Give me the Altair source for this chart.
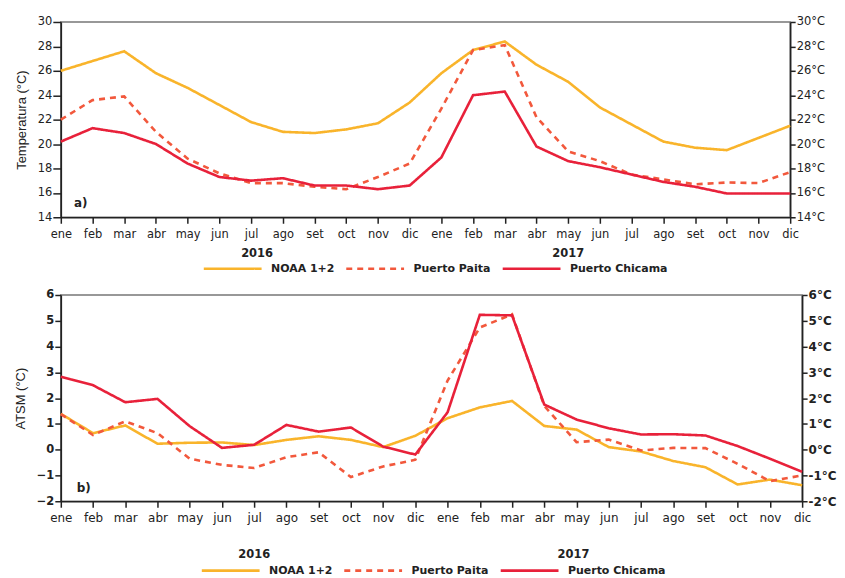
import altair as alt
import pandas as pd

meses = ["ene", "feb", "mar", "abr", "may", "jun", "jul", "ago", "set", "oct", "nov", "dic"]
series = ["NOAA 1+2", "Puerto Paita", "Puerto Chicama"]
colores = ["#F9B42B", "#F2583C", "#E8213A"]
dashes = [[1, 0], [6, 5], [1, 0]]
anios = ["2016", "2017"]

temp_noaa = [26.0, 26.8, 27.6, 25.8, 24.6, 23.2, 21.8, 21.0, 20.9, 21.2, 21.7, 23.4,
             25.8, 27.7, 28.4, 26.5, 25.1, 23.0, 21.6, 20.2, 19.7, 19.5, 20.5, 21.5]
temp_paita = [22.0, 23.6, 23.9, 21.0, 18.8, 17.6, 16.8, 16.8, 16.5, 16.3, 17.3, 18.4,
              22.9, 27.7, 28.1, 22.2, 19.4, 18.6, 17.5, 17.1, 16.7, 16.85, 16.8, 17.7]
temp_chicama = [20.2, 21.3, 20.9, 20.0, 18.4, 17.3, 17.0, 17.2, 16.6, 16.6, 16.3, 16.6,
                18.9, 24.0, 24.3, 19.8, 18.6, 18.1, 17.5, 16.9, 16.5, 15.95, 15.95, 15.95]

atsm_noaa = [1.39, 0.64, 0.94, 0.23, 0.27, 0.28, 0.18, 0.38, 0.52, 0.38, 0.10, 0.54,
             1.22, 1.64, 1.89, 0.92, 0.78, 0.10, -0.07, -0.44, -0.68, -1.35, -1.16, -1.38]
atsm_paita = [1.38, 0.57, 1.10, 0.64, -0.35, -0.59, -0.71, -0.29, -0.10, -1.06, -0.65, -0.39,
              2.68, 4.74, 5.25, 1.70, 0.29, 0.39, -0.03, 0.07, 0.06, -0.55, -1.22, -1.00]
atsm_chicama = [2.83, 2.50, 1.84, 1.97, 0.91, 0.07, 0.19, 0.96, 0.70, 0.86, 0.12, -0.19,
                1.45, 5.23, 5.21, 1.75, 1.17, 0.83, 0.59, 0.60, 0.55, 0.14, -0.35, -0.86]

# 24 month categories (2016 then 2017); the 2017 ones carry a trailing space so they stay distinct
meses_eje = meses + [m + " " for m in meses]


def tabla(valores_por_serie):
    filas = []
    for serie, vals in zip(series, valores_por_serie):
        for i, v in enumerate(vals):
            filas.append({"mes": meses_eje[i], "serie": serie, "valor": v})
    return pd.DataFrame(filas)


df_a = tabla([temp_noaa, temp_paita, temp_chicama])
df_b = tabla([atsm_noaa, atsm_paita, atsm_chicama])

AX = dict(domainColor="#222", domainWidth=1.6, tickColor="#222", tickWidth=1.5,
          labelColor="#222", labelFont="DejaVu Sans", grid=False)


def leyenda(legx, legy):
    return alt.Legend(title=None, orient="none", direction="horizontal",
                      legendX=legx, legendY=legy, symbolType="stroke",
                      symbolSize=3364, symbolStrokeWidth=2.6,
                      labelFont="DejaVu Sans", labelFontWeight="bold",
                      labelFontSize=11, labelColor="#222",
                      labelOffset=8, columnPadding=6)


def panel(df, ymin, ymax, step, width, height, ytitle, xlabsize, ylabweight,
          rlabsize, tag, tagdx, tagy, yeardx, yeary, legx, legy, title_pad, ltick):
    xs = alt.Scale(type="point", domain=meses_eje, padding=0)
    xax = alt.Axis(title=None, labelFontSize=xlabsize, labelPadding=5, labelAngle=0,
                   tickSize=6, labelOverlap=False, labelFlush=False, orient="bottom", **AX)
    xenc = alt.X("mes:N", scale=xs, axis=xax, sort=meses_eje)
    ys = alt.Scale(domain=[ymin, ymax], nice=False, zero=False)
    yvals = list(range(ymin, ymax + 1, step))
    lines = alt.Chart(df).mark_line(strokeWidth=2.6).encode(
        x=xenc,
        y=alt.Y("valor:Q", scale=ys, axis=alt.Axis(
            values=yvals, title=ytitle, titleFont="Liberation Sans",
            titleFontSize=13, titleFontWeight="normal", titleColor="#222",
            titlePadding=title_pad, labelFontSize=11.5, labelFontWeight=ylabweight,
            labelPadding=1, tickSize=ltick, labelOverlap=False, **AX)),
        color=alt.Color("serie:N", scale=alt.Scale(domain=series, range=colores),
                        legend=leyenda(legx, legy)),
        strokeDash=alt.StrokeDash("serie:N", scale=alt.Scale(domain=series, range=dashes),
                                  legend=leyenda(legx, legy)),
    )
    right = alt.Chart(df).mark_line(strokeOpacity=0).encode(
        x=xenc,
        y=alt.Y("valor:Q", scale=ys, axis=alt.Axis(
            orient="right", values=yvals, title=None, labelExpr="datum.value + '°C'",
            labelFontSize=rlabsize, labelFontWeight=ylabweight, labelPadding=1,
            tickSize=5, labelOverlap=False, **AX)),
        detail="serie:N",
    )
    year_layers = []
    for anio, cat, dx in zip(anios, [meses_eje[6], meses_eje[16]], yeardx):
        year_layers.append(
            alt.Chart(pd.DataFrame({"mes": [cat], "t": [anio]})).mark_text(
                font="DejaVu Sans", fontWeight="bold", fontSize=11.5, color="#222", dx=dx
            ).encode(x=xenc, y=alt.value(yeary), text="t:N")
        )
    tagc = alt.Chart(pd.DataFrame({"mes": [meses_eje[0]], "y": [tagy], "t": [tag]})).mark_text(
        font="DejaVu Sans", fontWeight="bold", fontSize=12, color="#222", dx=tagdx
    ).encode(x=xenc, y=alt.Y("y:Q", scale=ys, axis=None), text="t:N")
    return alt.layer(lines, right, *year_layers, tagc).resolve_scale(y="independent").properties(
        width=width, height=height)


pa = panel(df_a, 14, 30, 2, 732, 196, "Temperatura (°C)", 11.5, "normal", 11.5,
           "a)", 20, 15.2, [6, 0], 233, 142, 217, 9, 8)
pb = panel(df_b, -2, 6, 1, 744, 207, "ATSM (°C)", 12, "bold", 12,
           "b)", 23, -1.49, [0, -3], 261, 140, 246, 9, 6)

chart = alt.vconcat(pa, pb, spacing=13).resolve_scale(
    color="independent", strokeDash="independent", x="independent", y="independent"
).resolve_legend(color="independent", strokeDash="independent").properties(
    padding={"left": 5, "top": 6, "right": 0, "bottom": 0}
).configure_view(stroke="#777", strokeWidth=1.5)

chart.save("out.html", embed_options={"renderer": "svg", "actions": False})
